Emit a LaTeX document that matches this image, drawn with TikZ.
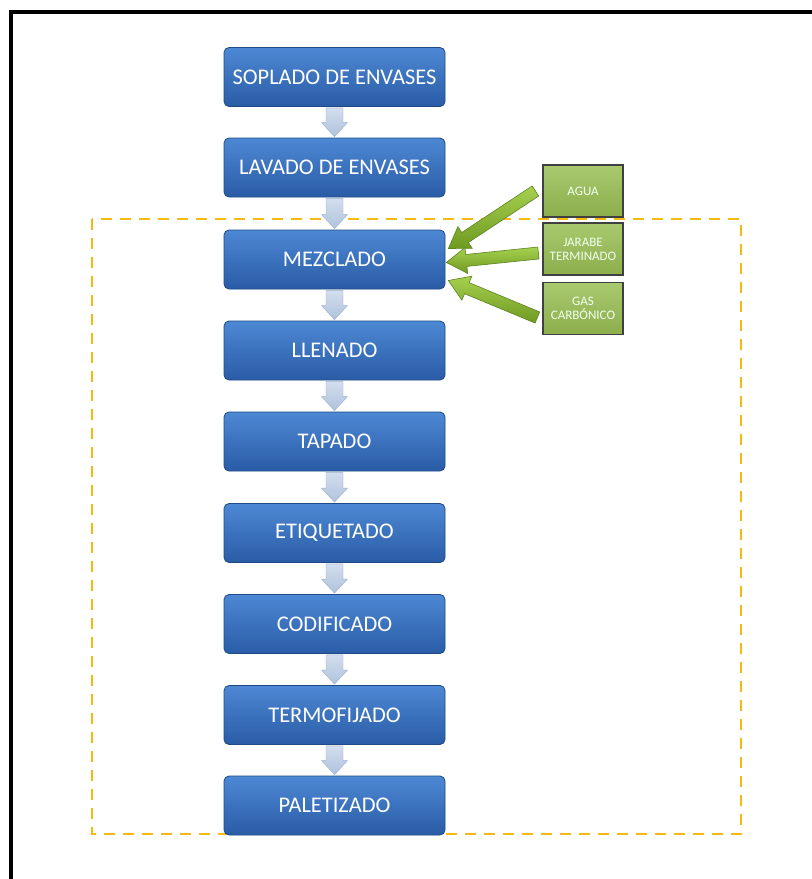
\documentclass[tikz,border=0pt]{standalone}
\usepackage{fontspec}
\setmainfont{Carlito}
\usetikzlibrary{calc}
\definecolor{bluetop}{HTML}{4D88D4}
\definecolor{bluebot}{HTML}{2A5CA6}
\definecolor{blueedge}{HTML}{1F4A85}
\definecolor{arrtop}{HTML}{D3DEEE}
\definecolor{arrbot}{HTML}{AFC2DD}
\definecolor{arredge}{HTML}{9DB1CF}
\definecolor{greentop}{HTML}{A9C96E}
\definecolor{greenbot}{HTML}{8CAE4C}
\definecolor{garrtop}{HTML}{A6D04E}
\definecolor{garrbot}{HTML}{6E9A22}
\definecolor{garredge}{HTML}{5E8420}
\definecolor{dashorange}{HTML}{F5B90F}
\tikzset{
  stepbox/.style={rectangle, rounded corners=5pt, minimum width=221pt, minimum height=59pt,
    top color=bluetop, bottom color=bluebot, draw=blueedge, line width=0.8pt,
    text=white, font=\fontsize{22.4}{25}\selectfont, inner sep=0pt},
  inbox/.style={rectangle, minimum width=80pt, minimum height=52pt,
    top color=greentop, bottom color=greenbot, draw=black!75, line width=1.2pt,
    text=white!94!green, font=\fontsize{13}{14}\selectfont, align=center, inner sep=0pt},
  bluearrow/.style={top color=arrtop, bottom color=arrbot, draw=arredge, line width=0.4pt},
  greenarrow/.style={top color=garrtop, bottom color=garrbot, draw=garredge, line width=0.6pt, line join=miter}
}
\newcommand{\downarrowblk}[2]{%
  \path[bluearrow] ($(#1.south)+(-8.5,1)$) -- ($(#1.south)+(8.5,1)$) -- ($(#2.north)+(8.5,-15)$)
    -- ($(#2.north)+(13,-15)$) -- ($(#2.north)+(0,-1)$) -- ($(#2.north)+(-13,-15)$)
    -- ($(#2.north)+(-8.5,-15)$) -- cycle;}
\newcommand{\feedarrow}[3]{%
  \coordinate (#3h) at ($(#2)!20pt!(#1)$);
  \path[greenarrow] ($(#1)!6pt!90:(#2)$) -- ($(#3h)!6pt!90:(#2)$) -- ($(#3h)!13pt!90:(#2)$)
    -- (#2) -- ($(#3h)!13pt!-90:(#2)$) -- ($(#3h)!6pt!-90:(#2)$) -- ($(#1)!6pt!-90:(#2)$) -- cycle;}
\begin{document}
\begin{tikzpicture}[x=1pt,y=-1pt]
\useasboundingbox (0,0) rectangle (812,879);
\fill[white] (0,0) rectangle (812,879);
% outer frame (partially visible)
\draw[line width=4pt, line cap=butt] (11,879) -- (11,11.5) -- (812,11.5);
% dashed region
\draw[dashorange, line width=2.5pt, dash pattern=on 11pt off 8pt] (92,219) rectangle (741,834);
% process steps
\node[stepbox] (s1) at (334.5,77) {SOPLADO DE ENVASES};
\node[stepbox] (s2) at (334.5,167.5) {LAVADO DE ENVASES};
\node[stepbox] (s3) at (334.5,259.5) {MEZCLADO};
\node[stepbox] (s4) at (334.5,350.5) {LLENADO};
\node[stepbox] (s5) at (334.5,441.5) {TAPADO};
\node[stepbox] (s6) at (334.5,533) {ETIQUETADO};
\node[stepbox] (s7) at (334.5,624) {CODIFICADO};
\node[stepbox] (s8) at (334.5,715) {TERMOFIJADO};
\node[stepbox] (s9) at (334.5,805.5) {PALETIZADO};
\downarrowblk{s1}{s2}
\downarrowblk{s2}{s3}
\downarrowblk{s3}{s4}
\downarrowblk{s4}{s5}
\downarrowblk{s5}{s6}
\downarrowblk{s6}{s7}
\downarrowblk{s7}{s8}
\downarrowblk{s8}{s9}
% inputs
\node[inbox] (agua) at (583,191) {AGUA};
\node[inbox] (jarabe) at (583,249) {JARABE\\TERMINADO};
\node[inbox] (gas) at (583,308.5) {GAS\\CARBÓNICO};
\coordinate (a1) at ($(agua.west)+(-7,0)$);
\coordinate (a2) at ($(s3.east)+(3,-11)$);
\coordinate (b1) at ($(jarabe.west)+(-4,4)$);
\coordinate (b2) at ($(s3.east)+(1,3)$);
\coordinate (c1) at ($(gas.west)+(-5,9)$);
\coordinate (c2) at ($(s3.east)+(3,21)$);
\feedarrow{a1}{a2}{ga}
\feedarrow{b1}{b2}{gb}
\feedarrow{c1}{c2}{gc}
\end{tikzpicture}
\end{document}
